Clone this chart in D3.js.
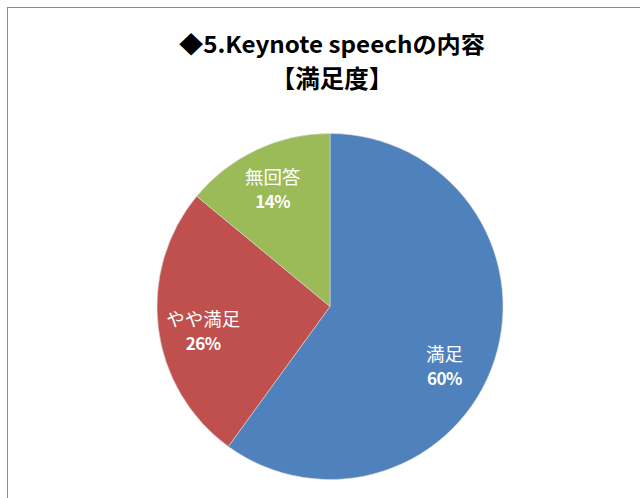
<!DOCTYPE html>
<html><head><meta charset="utf-8">
<script src="https://cdn.jsdelivr.net/npm/d3@7"></script>
<style>
html,body{margin:0;padding:0;background:#fff;}
svg{display:block;}
</style></head>
<body>
<script>
const categories = ["満足", "やや満足", "無回答"];
const values = [60, 26, 14];
const colors = ["#4F81BD", "#C0504D", "#9BBB59"];
const titleLines = ["◆5.Keynote speechの内容", "【満足度】"];

const W = 640, H = 498;
const svg = d3.select("body").append("svg").attr("width", W).attr("height", H);
svg.append("rect").attr("x", 0).attr("y", 0).attr("width", W).attr("height", H).attr("fill", "#fff");
svg.append("rect").attr("x", 7.5).attr("y", 7.5).attr("width", W).attr("height", H)
  .attr("fill", "none").attr("stroke", "#8c8c8c").attr("stroke-width", 1);

const fontCJK = "'Noto Sans CJK JP', 'Noto Sans', sans-serif";
const titleStyle = [{ y: 53, size: 23, len: 306 }, { y: 88, size: 24.5, len: null }];
svg.selectAll("text.title").data(titleLines).join("text")
  .attr("class", "title")
  .attr("x", 332).attr("y", (d, i) => titleStyle[i].y)
  .attr("text-anchor", "middle")
  .attr("font-family", fontCJK).attr("font-weight", "bold")
  .attr("font-size", (d, i) => titleStyle[i].size).attr("fill", "#000")
  .each(function (d, i) {
    if (titleStyle[i].len) d3.select(this).attr("textLength", titleStyle[i].len).attr("lengthAdjust", "spacingAndGlyphs");
  })
  .text(d => d);

const cx = 330, cy = 306.5, R = 173;
const g = svg.append("g").attr("transform", `translate(${cx},${cy})`);
const data = categories.map((c, i) => ({ name: c, value: values[i], color: colors[i] }));
const pie = d3.pie().value(d => d.value).sort(null);
const arcs = pie(data);
const arc = d3.arc().innerRadius(0).outerRadius(R);
g.selectAll("path").data(arcs).join("path")
  .attr("d", arc).attr("fill", d => d.data.color)
  .attr("stroke", "#d8d8d8").attr("stroke-width", 0.6);

// Excel-like label placement nudges (layout only)
const labelNudge = { "満足": [-9, 20], "やや満足": [2, 9], "無回答": [-2, 1] };
const labelArc = d3.arc().innerRadius(R * 0.75).outerRadius(R * 0.75);
const lab = g.selectAll("g.lab").data(arcs).join("g").attr("class", "lab")
  .attr("transform", d => {
    const c = labelArc.centroid(d), n = labelNudge[d.data.name];
    return `translate(${c[0] + n[0]},${c[1] + n[1]})`;
  });
lab.append("text").attr("y", -6).attr("text-anchor", "middle")
  .attr("font-family", fontCJK).attr("font-size", 18.5).attr("fill", "#fff")
  .text(d => d.data.name);
lab.append("text").attr("y", 18).attr("text-anchor", "middle")
  .attr("font-family", fontCJK).attr("font-weight", "bold").attr("font-size", 17)
  .attr("letter-spacing", -0.5).attr("fill", "#fff")
  .text(d => d3.format(".0%")(d.data.value / d3.sum(values)));
</script>
</body></html>
